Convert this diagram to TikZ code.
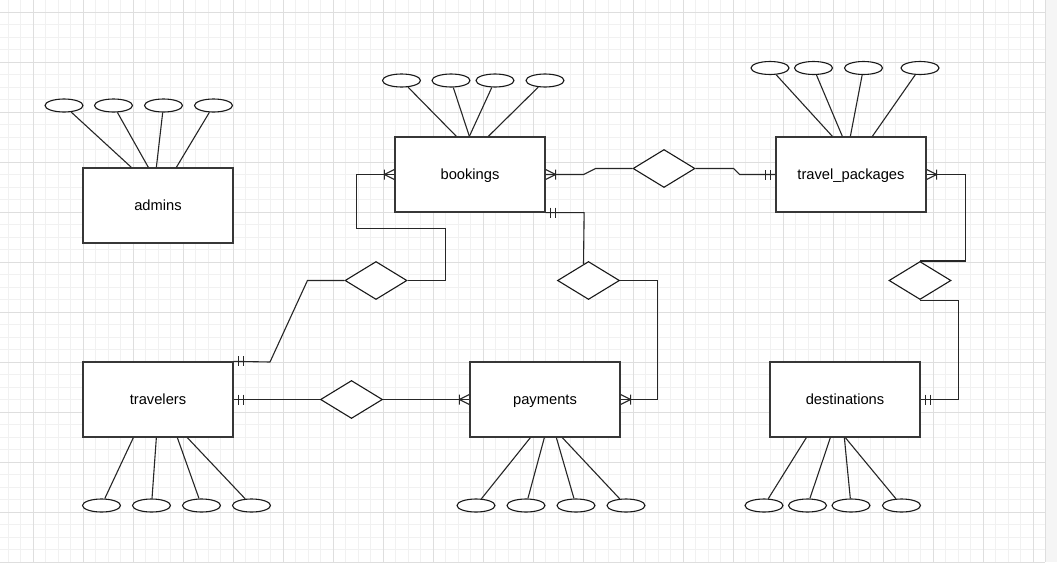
\documentclass[tikz,border=0pt]{standalone}
\usepackage{fontspec}
\setmainfont{Liberation Sans}
\usetikzlibrary{shapes.geometric,calc}
\definecolor{gridminor}{RGB}{241,241,241}
\definecolor{gridmajor}{RGB}{222,222,222}
\definecolor{edgecol}{RGB}{55,55,55}
\begin{document}
\begin{tikzpicture}[x=1pt,y=-1pt,
  entity/.style={draw=edgecol, line width=1.3pt, fill=white, minimum width=150pt,
    minimum height=75pt, inner sep=0pt, text height=13.3pt, text depth=3.1pt,
    font=\fontsize{14.7}{17}\selectfont},
  attr/.style={ellipse, draw=black!90, line width=1.1pt, fill=white,
    minimum width=38pt, minimum height=13pt, inner sep=0pt},
  rel/.style={diamond, draw=black!90, line width=1.1pt, fill=white,
    minimum width=62pt, minimum height=38pt, inner sep=0pt},
  conn/.style={draw=black!85, line width=1.1pt},
  gridline/.style={line width=0.8pt},
  barbar/.pic={\draw[conn] (5,-5) -- (5,5) (10,-5) -- (10,5);},
  crowone/.pic={\draw[conn] (0,-5) -- (10,0) -- (0,5) (10,-5) -- (10,5);}]

\useasboundingbox (0,0) rectangle (1057,562);
\fill[white] (0,0) rectangle (1057,562);

% canvas grid
\foreach \i in {0,...,83}
  \draw[gridline, gridminor] ({8+12.5*\i},0) -- ({8+12.5*\i},562);
\foreach \j in {1,...,45}
  \draw[gridline, gridminor] (0,{-0.5+12.5*\j}) -- (1045,{-0.5+12.5*\j});
\foreach \i in {0,...,20}
  \draw[gridline, gridmajor] ({33+50*\i},0) -- ({33+50*\i},562);
\foreach \j in {0,...,11}
  \draw[gridline, gridmajor] (0,{12+50*\j}) -- (1045,{12+50*\j});
\fill[black!4] (1045,0) rectangle (1057,562);
\draw[gridline, gridmajor] (1045,0) -- (1045,562);

% entities
\node[entity] (admins) at (158,205.5) {admins};
\node[entity] (bookings) at (470,174.5) {bookings};
\node[entity] (packages) at (851,174.5) {travel\_packages};
\node[entity] (travelers) at (158,399.5) {travelers};
\node[entity] (payments) at (545,399.5) {payments};
\node[entity] (destinations) at (845,399.5) {destinations};

% relationships
\node[rel] (rbt) at (376,280.5) {};
\node[rel] (rbp) at (588.5,280.5) {};
\node[rel] (rtp) at (351.5,399.5) {};
\node[rel] (rbk) at (664,168.5) {};
\node[rel] (rpd) at (920,280.5) {};

% attributes
\foreach \x [count=\k] in {64,113.5,163.5,213.5}
  \node[attr] (a\k) at (\x,105.5) {};
\foreach \k/\o in {1/49,2/66,3/74,4/94}
  \draw[conn] (a\k) -- ($(admins.north west)+(\o,0)$);

\foreach \x [count=\k] in {401.5,451,495,545}
  \node[attr] (b\k) at (\x,80.5) {};
\foreach \k/\o in {1/62,2/75,3/75,4/94}
  \draw[conn] (b\k) -- ($(bookings.north west)+(\o,0)$);

\foreach \x [count=\k] in {770,813.5,863.5,920}
  \node[attr] (t\k) at (\x,68) {};
\foreach \k/\o in {1/57,2/67,3/75,4/97}
  \draw[conn] (t\k) -- ($(packages.north west)+(\o,0)$);

\foreach \x [count=\k] in {101.5,151.5,201.5,251.5}
  \node[attr] (v\k) at (\x,505.5) {};
\foreach \k/\o in {1/51,2/74,3/95,4/105}
  \draw[conn] (v\k) -- ($(travelers.south west)+(\o,0)$);

\foreach \x [count=\k] in {476,526,576,626}
  \node[attr] (p\k) at (\x,505.5) {};
\foreach \k/\o in {1/61,2/75,3/87,4/93}
  \draw[conn] (p\k) -- ($(payments.south west)+(\o,0)$);

\foreach \x [count=\k] in {764,807.5,851,901.5}
  \node[attr] (d\k) at (\x,505.5) {};
\foreach \k/\o in {1/37,2/61,3/75,4/76}
  \draw[conn] (d\k) -- ($(destinations.south west)+(\o,0)$);

% relationship connectors
\draw[conn] (bookings.west) -- ++(-37.5,0) |- (445.5,228.5) |- (rbt.east);
\draw[conn] (rbt.west) -- ++(-37,0) -- (270,362) -- (travelers.north east);
\draw[conn] (bookings.south east) -- ++(38.5,0) -- ($(rbp.north)+(-5,3.1)$);
\draw[conn] (rbp.east) -- ++(37,0) |- (payments.east);
\draw[conn] (travelers.east) -- (rtp.west);
\draw[conn] (rtp.east) -- (payments.west);
\draw[conn] (bookings.east) -- ++(38,0) -- ++(12,-6) -- (rbk.west);
\draw[conn] (rbk.east) -- ++(38,0) -- ++(6,6) -- (packages.west);
\draw[conn] (packages.east) -- ++(38.5,0) |- (rpd.north);
\draw[conn] (rpd.south) -- ++(38.5,0) |- (destinations.east);

% cardinality marks
\pic[rotate=180] at (bookings.west) {crowone};
\pic at (travelers.north east) {barbar};
\pic at (bookings.south east) {barbar};
\pic at (payments.east) {crowone};
\pic at (travelers.east) {barbar};
\pic[rotate=180] at (payments.west) {crowone};
\pic at (bookings.east) {crowone};
\pic[rotate=180] at (packages.west) {barbar};
\pic at (packages.east) {crowone};
\pic at (destinations.east) {barbar};
\end{tikzpicture}
\end{document}
